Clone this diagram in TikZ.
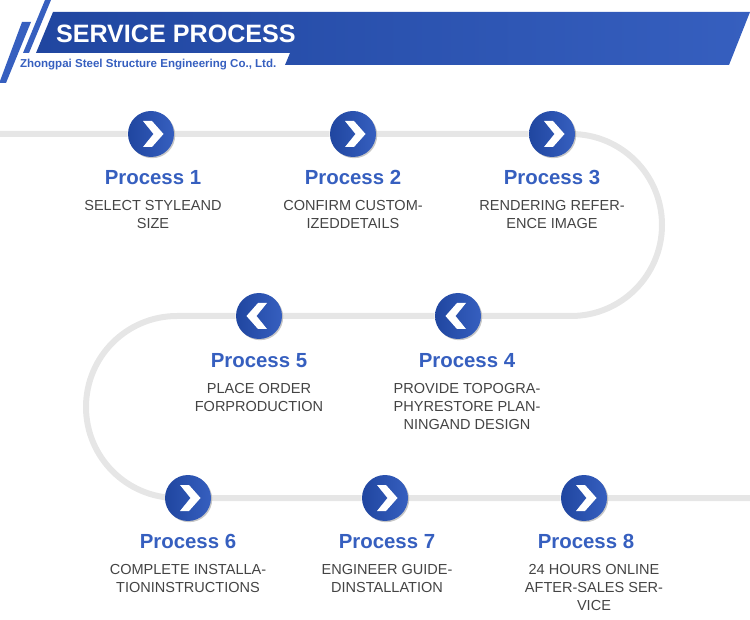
\documentclass[tikz,border=0pt]{standalone}
\usepackage{fontspec}
\setmainfont{Liberation Sans}
\usetikzlibrary{backgrounds,shadows}

\definecolor{darkblue}{RGB}{32,70,160}
\definecolor{lightblue}{RGB}{54,95,191}
\definecolor{trackgray}{RGB}{230,230,230}
\definecolor{bodygray}{RGB}{68,68,68}

\tikzset{every picture/.style={line width=0.75pt}}
\tikzset{
    stepdot/.style={circle, minimum size=34.5pt, inner sep=0pt, left color=darkblue, right color=lightblue,
        drop shadow={shadow xshift=0.9pt, shadow yshift=-0.9pt, fill=black, opacity=0.22}},
    steptitle/.style={font=\fontsize{15.3}{18}\selectfont\bfseries, text=lightblue, inner sep=0pt, anchor=base},
    stepbody/.style={font=\fontsize{10.9}{13.5}\selectfont, text=bodygray, align=center, anchor=north, inner sep=0pt},
    track/.style={draw=trackgray, line width=4.5pt},
    chevright/.pic={\fill[white] (-8,13) -- (1,13) -- (12.5,0) -- (1,-13) -- (-8,-13) -- (2.5,0) -- cycle;},
    chevleft/.pic={\fill[white] (8,13) -- (-1,13) -- (-12.5,0) -- (-1,-13) -- (8,-13) -- (-2.5,0) -- cycle;},
}

\begin{document}
\begin{tikzpicture}[x=0.75pt, y=0.75pt]
    \useasboundingbox (0,0) rectangle (750,-620);

    % header
    \fill[lightblue] (45,0) -- (51,0) -- (29,-53) -- (23,-53) -- cycle;
    \fill[lightblue] (0,-81) -- (22,-22) -- (31,-22) -- (6,-83) -- (0,-83) -- cycle;
    \shade[left color=darkblue, right color=lightblue] (53,-12) -- (750,-12) -- (729,-65) -- (285,-65) -- (290,-53) -- (36,-53) -- cycle;
    \node[anchor=west, inner sep=0pt, text=white, font=\fontsize{18.85}{22}\selectfont\bfseries] (heading) at (55.5,-33.5) {SERVICE PROCESS};
    \node[anchor=west, inner sep=0pt, text=lightblue, font=\fontsize{8.65}{11}\selectfont\bfseries] (company) at (19.5,-65) {Zhongpai Steel Structure Engineering Co., Ltd.};

    % steps
    \node[stepdot] (p1) at (151,-134) {};
    \node[stepdot] (p2) at (353,-134) {};
    \node[stepdot] (p3) at (552,-134) {};
    \node[stepdot] (p4) at (458,-316) {};
    \node[stepdot] (p5) at (259,-316) {};
    \node[stepdot] (p6) at (188,-498) {};
    \node[stepdot] (p7) at (385,-498) {};
    \node[stepdot] (p8) at (584,-498) {};

    \pic at (p1) {chevright};
    \pic at (p2) {chevright};
    \pic at (p3) {chevright};
    \pic at (p4) {chevleft};
    \pic at (p5) {chevleft};
    \pic at (p6) {chevright};
    \pic at (p7) {chevright};
    \pic at (p8) {chevright};

    % winding line behind the steps
    \coordinate (start) at (0,-134);
    \coordinate (turn1) at (571,-134);
    \coordinate (turn2) at (177,-316);
    \coordinate (finish) at (750,-498);
    \begin{scope}[on background layer]
        \draw[track] (start) -- (p1) -- (p2) -- (p3) -- (turn1) arc[start angle=90, end angle=-90, radius=91] -- (p4) -- (p5) -- (turn2) arc[start angle=90, end angle=270, radius=91] -- (p6) -- (p7) -- (p8) -- (finish);
    \end{scope}

    % labels
    \node[steptitle] (t1) at (153,-185) {Process 1};
    \node[steptitle] (t2) at (353,-185) {Process 2};
    \node[steptitle] (t3) at (552,-185) {Process 3};
    \node[steptitle] (t4) at (467,-368) {Process 4};
    \node[steptitle] (t5) at (259,-368) {Process 5};
    \node[steptitle] (t6) at (188,-548) {Process 6};
    \node[steptitle] (t7) at (387,-548) {Process 7};
    \node[steptitle] (t8) at (586,-548) {Process 8};

    \node[stepbody] (b1) at (153,-199.5) {SELECT STYLEAND\\SIZE};
    \node[stepbody] (b2) at (353,-199.5) {CONFIRM CUSTOM-\\IZEDDETAILS};
    \node[stepbody] (b3) at (552,-199.5) {RENDERING REFER-\\ENCE IMAGE};
    \node[stepbody] (b4) at (467,-382.5) {PROVIDE TOPOGRA-\\PHYRESTORE PLAN-\\NINGAND DESIGN};
    \node[stepbody] (b5) at (259,-382.5) {PLACE ORDER\\FORPRODUCTION};
    \node[stepbody] (b6) at (188,-563.5) {COMPLETE INSTALLA-\\TIONINSTRUCTIONS};
    \node[stepbody] (b7) at (387,-563.5) {ENGINEER GUIDE-\\DINSTALLATION};
    \node[stepbody] (b8) at (594,-563.5) {24 HOURS ONLINE\\AFTER-SALES SER-\\VICE};
\end{tikzpicture}
\end{document}
